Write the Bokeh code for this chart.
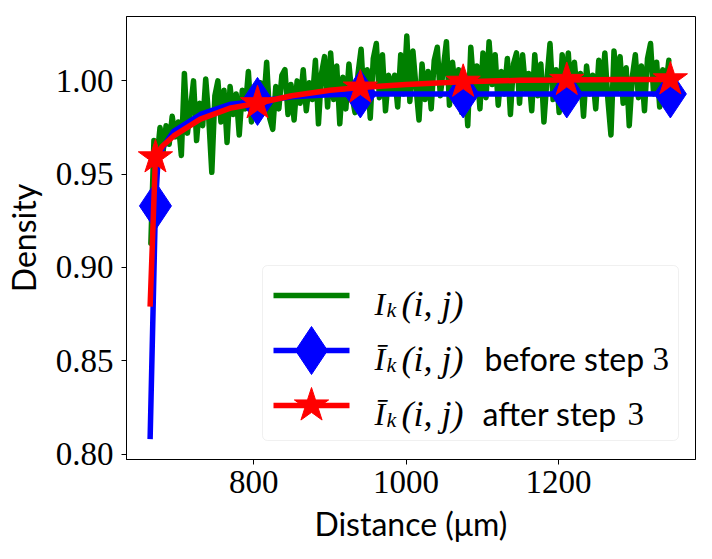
from bokeh.plotting import figure
from bokeh.models import Range1d, FixedTicker, PrintfTickFormatter, BoxAnnotation, Label
from bokeh.embed import file_html
from bokeh.resources import INLINE

# ---------------- data ----------------
green_distance = list(range(665, 1349, 4))  # sampling grid, um
green_density = [
    0.913, 0.968, 0.958, 0.975, 0.962, 0.976, 0.966, 0.981, 0.970, 0.978,
    0.960, 1.004, 0.972, 0.985, 1.000, 0.968, 0.988, 0.976, 1.001, 0.980,
    0.951, 0.992, 1.000, 0.978, 0.995, 0.967, 0.997, 0.982, 0.993, 0.971,
    0.995, 0.985, 1.005, 0.978, 0.996, 0.983, 0.999, 0.987, 1.010, 0.980,
    0.974, 0.997, 0.985, 1.003, 1.006, 0.982, 0.998, 0.979, 1.000, 0.988,
    1.006, 0.984, 0.999, 0.990, 1.011, 0.977, 1.004, 1.013, 0.986, 1.015,
    0.990, 1.008, 0.977, 1.002, 0.985, 1.009, 0.992, 0.983, 1.004, 1.017,
    0.988, 1.006, 0.980, 1.012, 1.020, 0.991, 1.014, 0.984, 1.003, 0.995,
    1.003, 0.986, 1.014, 0.993, 1.024, 0.989, 1.016, 0.997, 0.979, 1.009,
    0.990, 1.005, 0.985, 1.011, 1.018, 0.992, 1.007, 1.021, 0.987, 1.010,
    0.994, 1.006, 0.983, 1.002, 0.976, 1.018, 0.996, 1.008, 0.985, 1.015,
    0.991, 1.021, 0.998, 1.014, 0.987, 1.005, 0.993, 1.012, 0.982, 1.009,
    1.015, 0.988, 1.014, 0.995, 1.004, 0.984, 1.014, 0.992, 1.009, 0.978,
    1.001, 1.020, 0.990, 1.006, 0.983, 1.014, 0.996, 1.015, 0.987, 1.010,
    0.992, 1.004, 0.981, 1.008, 0.993, 1.003, 0.985, 1.011, 0.994, 1.015,
    0.990, 0.971, 1.016, 0.995, 1.013, 0.988, 1.007, 0.976, 1.002, 1.014,
    0.991, 1.008, 0.984, 1.012, 1.020, 0.993, 1.010, 0.986, 1.006, 0.997,
    1.011,
]

blue_distance = [664, 671, 674, 680, 695, 730, 770, 805, 850, 900, 940, 1000, 1100, 1347]
blue_density = [0.808, 0.933, 0.955, 0.964, 0.973, 0.982, 0.9875, 0.989, 0.9915,
                0.9925, 0.993, 0.993, 0.993, 0.993]

red_distance = [664, 671, 680, 695, 730, 770, 805, 850, 900, 940, 1000, 1075,
                1150, 1211, 1280, 1347]
red_density = [0.879, 0.959, 0.965, 0.9705, 0.9795, 0.9855, 0.988, 0.992, 0.995,
               0.9964, 0.998, 0.9995, 1.0003, 1.0005, 1.0007, 1.0008]

marker_distance = [671, 805, 940, 1075, 1211, 1347]
blue_marker_density = [0.933, 0.989, 0.993, 0.993, 0.993, 0.993]
red_marker_density = [0.959, 0.988, 0.9964, 0.9995, 1.0005, 1.0008]

x_ticks = [800, 1000, 1200]
y_ticks = [0.80, 0.85, 0.90, 0.95, 1.00]

# ---------------- layout ----------------
W, H = 712, 559
FL, FR, FT, FB = 126, 695, 16, 459
X0, X1 = 633.0, 1380.0
Y0, Y1 = 0.7971, 1.0345


def px2x(px):
    return X0 + (px - FL) / (FR - FL) * (X1 - X0)


def py2y(py):
    return Y0 + (FB - py) / (FB - FT) * (Y1 - Y0)


GREEN, BLUE, RED = "#008000", "#0000ff", "#ff0000"
SERIF = "Liberation Serif"
SANS = "Lato, Noto Sans"
LW = 5.5

p = figure(width=W, height=H, x_range=Range1d(X0, X1), y_range=Range1d(Y0, Y1),
           output_backend="svg", toolbar_location=None,
           min_border_left=FL, min_border_right=W - FR,
           min_border_top=FT, min_border_bottom=H - FB)
p.background_fill_color = "white"
p.border_fill_color = "white"
p.outline_line_color = "black"
p.outline_line_width = 1
p.xgrid.visible = False
p.ygrid.visible = False

# data
p.line(green_distance, green_density, line_color=GREEN, line_width=LW,
       line_join="round", line_cap="round")
p.line(blue_distance, blue_density, line_color=BLUE, line_width=LW, line_join="round")
p.scatter(marker_distance, blue_marker_density, marker="diamond", size=48,
          fill_color=BLUE, line_color=BLUE)
p.line(red_distance, red_density, line_color=RED, line_width=LW, line_join="round")
p.scatter(marker_distance, red_marker_density, marker="star", size=36,
          fill_color=RED, line_color=RED)

# axes
for ax in (p.xaxis[0], p.yaxis[0]):
    ax.axis_line_color = "black"
    ax.major_tick_line_color = "black"
    ax.major_tick_out = 5
    ax.major_tick_in = 0
    ax.minor_tick_line_color = None
    ax.major_label_text_font = SERIF
    ax.major_label_text_font_size = "33px"
    ax.major_label_text_color = "black"
    ax.axis_label_text_font = SANS
    ax.axis_label_text_font_size = "32px"
    ax.axis_label_text_font_style = "normal"
    ax.axis_label_text_color = "black"

p.xaxis.ticker = FixedTicker(ticks=x_ticks)
p.yaxis.ticker = FixedTicker(ticks=y_ticks)
p.yaxis.formatter = PrintfTickFormatter(format="%.2f")
p.xaxis.major_label_standoff = 6
p.yaxis.major_label_standoff = 8
p.xaxis.axis_label = "Distance (μm)"
p.yaxis.axis_label = "Density"
p.xaxis.axis_label_standoff = 8
p.yaxis.axis_label_standoff = 10

# ---------------- legend (drawn by hand for mixed fonts) ----------------
box = BoxAnnotation(left=px2x(262), right=px2x(678), top=py2y(265), bottom=py2y(440),
                    fill_color="white", fill_alpha=0.8, line_color="#cccccc",
                    line_width=1, border_radius=5, level="underlay")
p.add_layout(box)

rows = [295, 350, 405]
sx0, sx1, smid = px2x(273), px2x(349), px2x(311)
p.line([sx0, sx1], [py2y(rows[0])] * 2, line_color=GREEN, line_width=LW)
p.line([sx0, sx1], [py2y(rows[1])] * 2, line_color=BLUE, line_width=LW)
p.scatter([smid], [py2y(rows[1])], marker="diamond", size=48, fill_color=BLUE, line_color=BLUE)
p.line([sx0, sx1], [py2y(rows[2])] * 2, line_color=RED, line_width=LW)
p.scatter([smid], [py2y(rows[2])], marker="star", size=36, fill_color=RED, line_color=RED)


def lab(px, py, text, font, size, style="normal"):
    p.add_layout(Label(x=px2x(px), y=py2y(py), text=text, text_font=font,
                       text_font_size=size, text_font_style=style,
                       text_color="black", text_baseline="alphabetic",
                       text_align="left"))


suffixes = [None, ("before step", 484, 652), ("after step", 482, 627)]
for i, row in enumerate(rows):
    base = row + 8
    lab(374, base, "I" if i == 0 else "Ī", SERIF, "32px", "italic")
    lab(386, base + 6, "k", SERIF, "22px", "italic")
    lab(401, base, "(i, j)", SERIF, "36px", "italic")
    if suffixes[i] is not None:
        word, wx, nx = suffixes[i]
        lab(wx, base, word, SANS, "32px")
        lab(nx, base, "3", SERIF, "33px")

open("out.html", "w").write(file_html(p, INLINE))
